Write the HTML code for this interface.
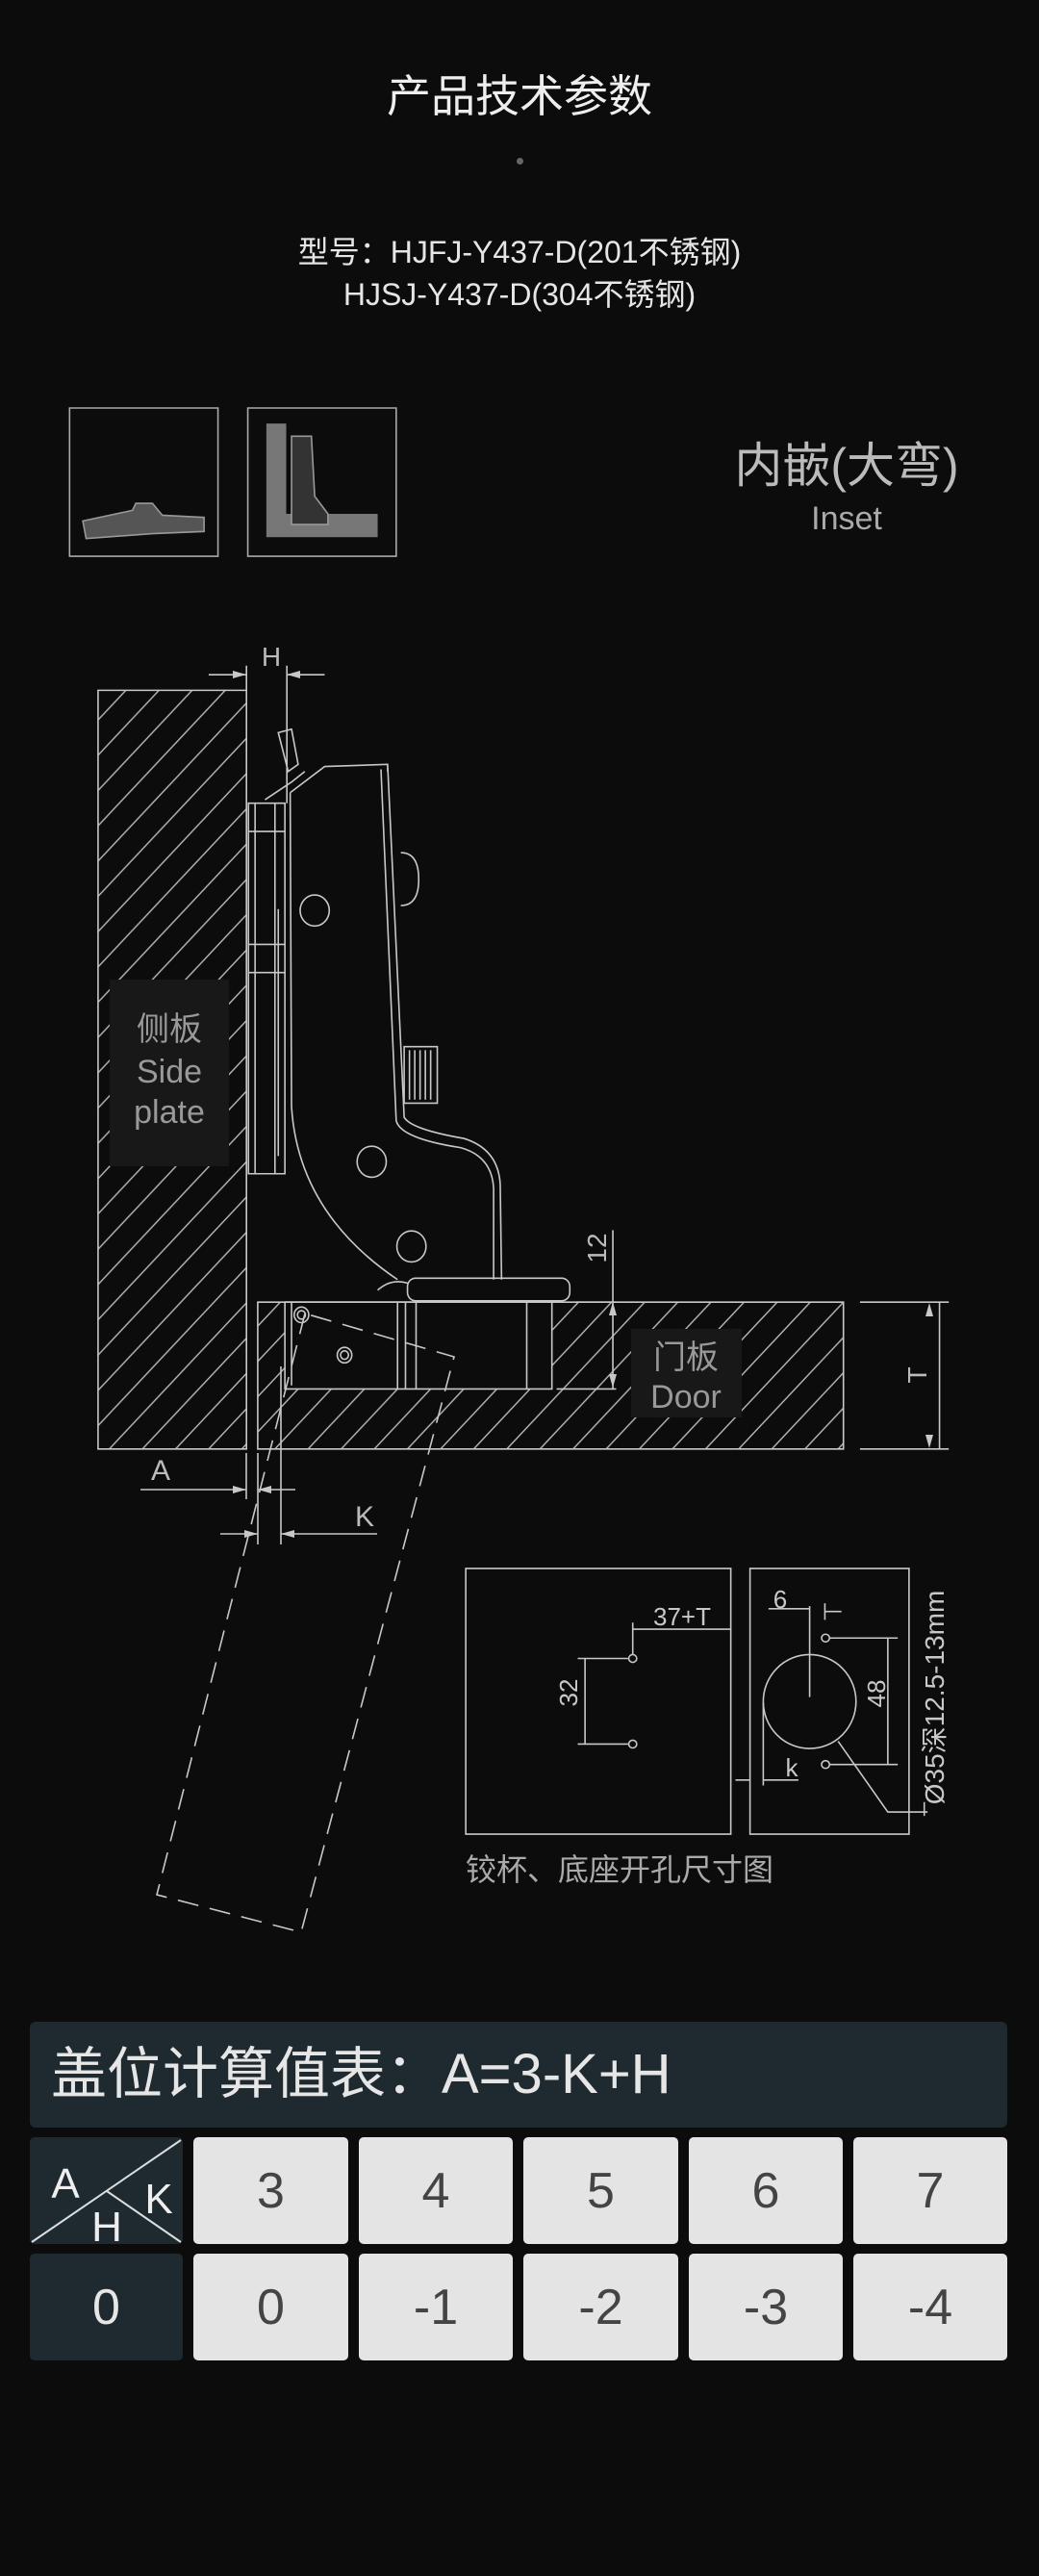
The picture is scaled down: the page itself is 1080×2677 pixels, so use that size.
<!DOCTYPE html>
<html><head><meta charset="utf-8"><style>
html,body{margin:0;padding:0;}
body{width:1080px;height:2677px;background:#0c0c0c;position:relative;overflow:hidden;font-family:"Liberation Sans","Noto Sans CJK SC",sans-serif;color:#ddd;}
.t{position:absolute;white-space:nowrap;}
.cell{position:absolute;background:#e4e4e4;border-radius:5px;color:#444;font-size:52px;display:flex;align-items:center;justify-content:center;}
.dk{background:#1e2a2f;color:#e6e6e6;}
</style></head><body>
<div class="t" style="left:0;width:1080px;text-align:center;top:64px;font-size:46px;color:#eee;">产品技术参数</div>
<div style="position:absolute;left:537px;top:164px;width:7px;height:7px;border-radius:50%;background:#666;"></div>
<div class="t" style="left:0;width:1080px;text-align:center;top:240px;font-size:32px;line-height:44px;color:#e6e6e6;">型号：HJFJ-Y437-D(201不锈钢)<br>HJSJ-Y437-D(304不锈钢)</div>
<div class="t" style="left:700px;width:360px;text-align:center;top:444px;font-size:50px;color:#bbb;">内嵌(大弯)</div>
<div class="t" style="left:700px;width:360px;text-align:center;top:520px;font-size:34px;color:#aaa;">Inset</div>

<svg width="1080" height="2677" style="position:absolute;left:0;top:0">
<defs>
<pattern id="h" width="50" height="50" patternUnits="userSpaceOnUse">
<path d="M0,50 L50,0 M-10,10 L10,-10 M40,60 L60,40" stroke="#bbb" stroke-width="2"/>
</pattern>
</defs>
<g transform="translate(0,380) scale(0.6887,0.7334)" fill="none" stroke="#c8c8c8" stroke-width="1.6">
<g>
<rect x="105" y="60" width="224" height="210" stroke="#aaa" vector-effect="non-scaling-stroke"/>
<rect x="374" y="60" width="224" height="210" stroke="#aaa" vector-effect="non-scaling-stroke"/>
<path d="M125,220 L200,205 L205,195 L230,195 L245,212 L308,215 L308,235 L230,238 L130,245 Z" fill="#555" stroke="#999" vector-effect="non-scaling-stroke"/>
<rect x="402" y="82" width="30" height="161" fill="#777" stroke="none"/>
<rect x="432" y="210" width="138" height="33" fill="#777" stroke="none"/>
<path d="M440,100 L470,100 L475,185 L495,210 L495,225 L440,225 Z" fill="#333" stroke="#999" vector-effect="non-scaling-stroke"/>
<rect x="148" y="460" width="224" height="1075" fill="url(#h)" vector-effect="non-scaling-stroke"/>
<rect x="389" y="1327" width="884" height="208" fill="url(#h)" vector-effect="non-scaling-stroke"/>
<rect x="430" y="1327" width="403" height="123" fill="#0c0c0c" vector-effect="non-scaling-stroke"/>
<path d="M440,1327 L440,1445 M600,1327 L600,1450 M612,1327 L612,1450 M628,1327 L628,1450 M795,1327 L795,1450" vector-effect="non-scaling-stroke"/>
<circle cx="455" cy="1345" r="11" vector-effect="non-scaling-stroke"/><circle cx="455" cy="1345" r="6" vector-effect="non-scaling-stroke"/>
<circle cx="520" cy="1402" r="11" vector-effect="non-scaling-stroke"/><circle cx="520" cy="1402" r="6" vector-effect="non-scaling-stroke"/>
<path d="M372,425 L372,460 M433,425 L433,620 M315,438 L372,438 M433,438 L490,438" vector-effect="non-scaling-stroke"/>
<rect x="375" y="620" width="55" height="525" vector-effect="non-scaling-stroke" fill="#0c0c0c"/>
<path d="M385,620 L385,1145 M415,620 L415,1145 M375,660 L430,660 M375,820 L430,820 M375,860 L430,860 M420,770 L420,1120" vector-effect="non-scaling-stroke"/>
<path d="M420,520 L440,515 L450,565 L435,575 Z" vector-effect="non-scaling-stroke"/>
<path d="M400,615 L440,590 L460,575" vector-effect="non-scaling-stroke"/>
<path d="M438,605 L490,568 L585,565 L610,1065 Q620,1082 700,1095 Q752,1110 755,1160 L757,1295 M745,1295 L745,1165 Q742,1120 695,1108 Q605,1095 598,1070 L575,572 M438,605 L440,1050 Q450,1200 600,1295 M585,565 L585,575" fill="none" vector-effect="non-scaling-stroke"/>
<circle cx="475" cy="772" r="22" vector-effect="non-scaling-stroke"/>
<circle cx="561" cy="1128" r="22" vector-effect="non-scaling-stroke"/>
<circle cx="621" cy="1248" r="22" vector-effect="non-scaling-stroke"/>
<path d="M605,690 Q632,690 632,728 Q632,765 605,765" vector-effect="non-scaling-stroke"/>
<rect x="610" y="965" width="50" height="80" vector-effect="non-scaling-stroke"/>
<path d="M618,970 L618,1040 M626,970 L626,1040 M634,970 L634,1040 M642,970 L642,1040 M650,970 L650,1040" vector-effect="non-scaling-stroke"/>
<rect x="615" y="1293" width="245" height="32" rx="12" vector-effect="non-scaling-stroke"/>
<path d="M570,1310 Q590,1293 615,1300 M430,1327 L620,1327" vector-effect="non-scaling-stroke"/>
<path d="M925,1225 L925,1450 M840,1450 L930,1450 M870,1327 L930,1327" vector-effect="non-scaling-stroke"/>
<path d="M1298,1327 L1432,1327 M1298,1535 L1432,1535 M1418,1327 L1418,1535" vector-effect="non-scaling-stroke"/>
</g>
</g>
<g fill="#c8c8c8">
<polygon points="256,1548 242,1544 242,1552"/><polygon points="268,1548 282,1544 282,1552"/>
<polygon points="268,1594 254,1590 254,1598"/><polygon points="292,1594 306,1590 306,1598"/>
<polygon points="256,701 242,697 242,705"/><polygon points="298,701 312,697 312,705"/>
<polygon points="966,1354 962,1368 970,1368"/><polygon points="966,1505 962,1491 970,1491"/>
<polygon points="637,1353 633,1367 641,1367"/><polygon points="637,1442 633,1428 641,1428"/>
</g>
<g fill="none" stroke="#c8c8c8" stroke-width="1.6">
<path d="M146,1548 L256,1548 M268,1548 L307,1548 M256,1510 L256,1558 M268,1510 L268,1605 M229,1594 L268,1594 M292,1594 L392,1594 M292,1420 L292,1605"/>
</g>
<g fill="none" stroke="#c8c8c8" stroke-width="1.6" stroke-dasharray="22,12">
<path d="M317,1365 L163,1969 L313,2008 L472,1410 L317,1365"/>
</g>
<rect x="114" y="1018" width="124" height="194" fill="#181818"/>
<rect x="656" y="1381" width="115" height="92" fill="#181818"/>
<g font-family="Liberation Sans, Noto Sans CJK SC, sans-serif" fill="#bbb">
<text x="176" y="1081" font-size="34" text-anchor="middle" fill="#999">侧板</text>
<text x="176" y="1125" font-size="34" text-anchor="middle" fill="#999">Side</text>
<text x="176" y="1167" font-size="34" text-anchor="middle" fill="#999">plate</text>
<text x="713" y="1422" font-size="34" text-anchor="middle" fill="#999">门板</text>
<text x="713" y="1463" font-size="34" text-anchor="middle" fill="#999">Door</text>
<text x="282" y="692" font-size="28" text-anchor="middle">H</text>
<text x="167" y="1538" font-size="30" text-anchor="middle">A</text>
<text x="379" y="1586" font-size="30" text-anchor="middle">K</text>
<text transform="translate(630,1297) rotate(-90)" font-size="28" text-anchor="middle">12</text>
<text transform="translate(963,1429) rotate(-90)" font-size="28" text-anchor="middle">T</text>
</g>
<g transform="translate(0,1580) scale(0.6887,0.574)" fill="none" stroke="#c8c8c8" stroke-width="1.6">
<g>
<rect x="703" y="87" width="400" height="481" vector-effect="non-scaling-stroke"/>
<rect x="1132" y="87" width="240" height="481" vector-effect="non-scaling-stroke"/>
<path d="M872,250 L948,250 M872,405 L948,405 M883,250 L883,405 M955,185 L955,243 M955,197 L1103,197" vector-effect="non-scaling-stroke"/>
<ellipse cx="955" cy="250" rx="6" ry="7" vector-effect="non-scaling-stroke"/>
<ellipse cx="955" cy="405" rx="6" ry="7" vector-effect="non-scaling-stroke"/>
<ellipse cx="1222" cy="328" rx="70" ry="85" vector-effect="non-scaling-stroke"/>
<path d="M1222,155 L1222,320 M1160,160 L1222,160 M1245,165 L1270,165 M1245,150 L1245,180 M1252,213 L1355,213 M1252,442 L1355,442 M1340,213 L1340,442 M1152,330 L1152,480 M1152,470 L1205,470 M1110,470 L1132,470 M1265,400 L1340,528 L1400,528 M1395,510 L1395,535" vector-effect="non-scaling-stroke"/>
<ellipse cx="1246" cy="213" rx="6" ry="7" vector-effect="non-scaling-stroke"/>
<ellipse cx="1246" cy="442" rx="6" ry="7" vector-effect="non-scaling-stroke"/>
</g>
</g>
<g font-family="Liberation Sans, Noto Sans CJK SC, sans-serif" fill="#c8c8c8">
<text x="709" y="1689" font-size="26" text-anchor="middle">37+T</text>
<text transform="translate(600,1759) rotate(-90)" font-size="26" text-anchor="middle">32</text>
<text x="811" y="1671" font-size="26" text-anchor="middle">6</text>
<text transform="translate(920,1760) rotate(-90)" font-size="26" text-anchor="middle">48</text>
<text x="823" y="1846" font-size="26" text-anchor="middle">k</text>
<text transform="translate(981,1764) rotate(-90)" font-size="28" text-anchor="middle">Ø35深12.5-13mm</text>
<text x="484" y="1954" font-size="32" fill="#aaa">铰杯、底座开孔尺寸图</text>
</g>
</svg>

<div class="t dk" style="left:31px;top:2101px;width:1016px;height:110px;border-radius:6px;font-size:58px;line-height:110px;padding-left:22px;box-sizing:border-box;">盖位计算值表：A=3-K+H</div>
<div class="cell dk" style="left:31px;top:2221px;width:159px;height:111px;display:block;">
<svg width="159" height="111" style="position:absolute;left:0;top:0"><path d="M2,109 L157,3 M80,56 L157,109" stroke="#ddd" stroke-width="2"/>
<text x="37" y="63" font-size="44" fill="#eee" text-anchor="middle" font-family="Liberation Sans,sans-serif">A</text>
<text x="134" y="79" font-size="44" fill="#eee" text-anchor="middle" font-family="Liberation Sans,sans-serif">K</text>
<text x="80" y="108" font-size="44" fill="#eee" text-anchor="middle" font-family="Liberation Sans,sans-serif">H</text></svg></div>
<div class="cell" style="left:201px;top:2221px;width:161px;height:111px;">3</div>
<div class="cell" style="left:373px;top:2221px;width:160px;height:111px;">4</div>
<div class="cell" style="left:544px;top:2221px;width:161px;height:111px;">5</div>
<div class="cell" style="left:716px;top:2221px;width:160px;height:111px;">6</div>
<div class="cell" style="left:887px;top:2221px;width:160px;height:111px;">7</div>
<div class="cell dk" style="left:31px;top:2342px;width:159px;height:111px;">0</div>
<div class="cell" style="left:201px;top:2342px;width:161px;height:111px;">0</div>
<div class="cell" style="left:373px;top:2342px;width:160px;height:111px;">-1</div>
<div class="cell" style="left:544px;top:2342px;width:161px;height:111px;">-2</div>
<div class="cell" style="left:716px;top:2342px;width:160px;height:111px;">-3</div>
<div class="cell" style="left:887px;top:2342px;width:160px;height:111px;">-4</div>
</body></html>
